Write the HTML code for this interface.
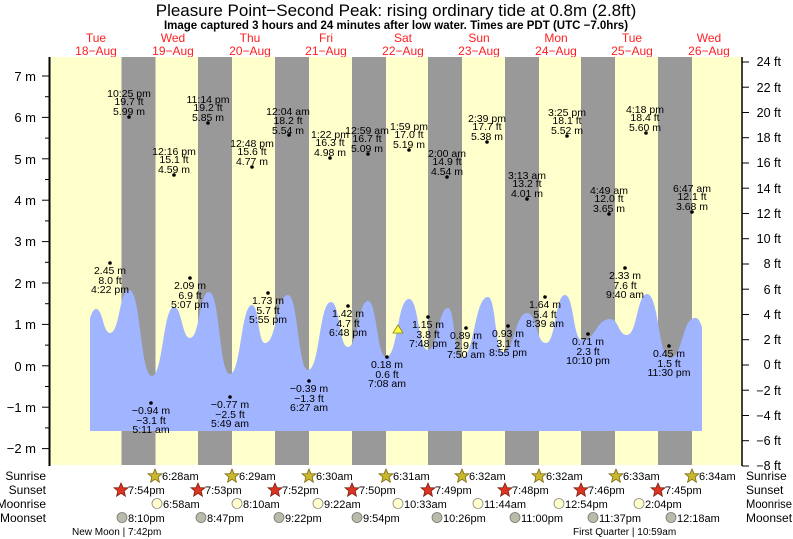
<!DOCTYPE html>
<html><head><meta charset="utf-8"><style>
html,body{margin:0;padding:0;background:#fff;}
svg{display:block;font-family:"Liberation Sans",sans-serif;}
</style></head><body>
<svg width="793" height="539" viewBox="0 0 793 539" xmlns="http://www.w3.org/2000/svg">
<text x="396" y="16" font-size="17" text-anchor="middle" fill="#000">Pleasure Point−Second Peak: rising  ordinary tide at 0.8m (2.8ft)</text>
<text x="396" y="29" font-size="11.5" font-weight="bold" text-anchor="middle" fill="#000">Image captured 3 hours and 24 minutes after low water. Times are PDT (UTC −7.0hrs)</text>
<g font-size="12" fill="#ff2020" text-anchor="middle">
<text x="96" y="42">Tue</text><text x="96" y="55">18−Aug</text>
<text x="173" y="42">Wed</text><text x="173" y="55">19−Aug</text>
<text x="250" y="42">Thu</text><text x="250" y="55">20−Aug</text>
<text x="326" y="42">Fri</text><text x="326" y="55">21−Aug</text>
<text x="403" y="42">Sat</text><text x="403" y="55">22−Aug</text>
<text x="479" y="42">Sun</text><text x="479" y="55">23−Aug</text>
<text x="556" y="42">Mon</text><text x="556" y="55">24−Aug</text>
<text x="632" y="42">Tue</text><text x="632" y="55">25−Aug</text>
<text x="709" y="42">Wed</text><text x="709" y="55">26−Aug</text>
</g>
<rect x="50" y="57" width="692" height="408" fill="#ffffcc"/>
<g fill="#999999">
<rect x="121.5" y="57" width="34" height="408"/>
<rect x="198" y="57" width="34" height="408"/>
<rect x="275" y="57" width="34" height="408"/>
<rect x="352" y="57" width="34" height="408"/>
<rect x="428" y="57" width="34" height="408"/>
<rect x="505" y="57" width="34" height="408"/>
<rect x="581" y="57" width="34" height="408"/>
<rect x="658" y="57" width="34" height="408"/>
</g>
<path fill="#a0b4ff" d="M90,431 L90,318 C92,312 94,309 96,309 C103,309 103,333 110,333 C120,333 119,290 129,290 C141,290 140,376 152,376 C163,376 163,307 174,307 C182,307 182,338 190,338 C200,338 199,292 209,292 C220,292 219,374 230,374 C241,374 241,305 252,305 C259,305 258,343 265,343 C277,343 276,295 288,295 C298,295 298,370 308,370 C320,370 319,302 331,302 C340,302 339,347 348,347 C358,347 358,301 368,301 C377,301 377,357 386,357 C398,357 397,299 409,299 C419,299 418,350 428,350 C438,350 438,308 448,308 C455,308 454,358 461,358 C475,358 474,297 488,297 C496,297 495,352 503,352 C515,352 515,313 527,313 C537,313 536,343 546,343 C556,343 555,295 565,295 C574,295 573,340 582,340 C596,340 596,319 610,319 C619,319 618,335 627,335 C637,335 637,294 647,294 C659,294 658,358 670,358 C683,358 682,318 695,318 C699,318 700,322 702,327 L702,431 Z"/>
<line x1="49.5" y1="57" x2="49.5" y2="466" stroke="#000" stroke-width="2"/>
<line x1="742" y1="57" x2="742" y2="466" stroke="#000" stroke-width="1.5"/>
<g stroke="#000" stroke-width="1">
<line x1="42" y1="76" x2="49" y2="76"/><line x1="42" y1="117.4" x2="49" y2="117.4"/><line x1="42" y1="158.8" x2="49" y2="158.8"/><line x1="42" y1="200.2" x2="49" y2="200.2"/><line x1="42" y1="241.6" x2="49" y2="241.6"/><line x1="42" y1="283" x2="49" y2="283"/><line x1="42" y1="324.4" x2="49" y2="324.4"/><line x1="42" y1="365.8" x2="49" y2="365.8"/><line x1="42" y1="407.2" x2="49" y2="407.2"/><line x1="42" y1="448.6" x2="49" y2="448.6"/>
<line x1="45" y1="96.7" x2="49" y2="96.7"/><line x1="45" y1="138.1" x2="49" y2="138.1"/><line x1="45" y1="179.5" x2="49" y2="179.5"/><line x1="45" y1="220.9" x2="49" y2="220.9"/><line x1="45" y1="262.3" x2="49" y2="262.3"/><line x1="45" y1="303.7" x2="49" y2="303.7"/><line x1="45" y1="345.1" x2="49" y2="345.1"/><line x1="45" y1="386.5" x2="49" y2="386.5"/><line x1="45" y1="427.9" x2="49" y2="427.9"/>
<line x1="742" y1="62" x2="749" y2="62"/><line x1="742" y1="87.2" x2="749" y2="87.2"/><line x1="742" y1="112.5" x2="749" y2="112.5"/><line x1="742" y1="137.7" x2="749" y2="137.7"/><line x1="742" y1="163" x2="749" y2="163"/><line x1="742" y1="188.2" x2="749" y2="188.2"/><line x1="742" y1="213.5" x2="749" y2="213.5"/><line x1="742" y1="238.7" x2="749" y2="238.7"/><line x1="742" y1="264" x2="749" y2="264"/><line x1="742" y1="289.2" x2="749" y2="289.2"/><line x1="742" y1="314.5" x2="749" y2="314.5"/><line x1="742" y1="339.7" x2="749" y2="339.7"/><line x1="742" y1="365" x2="749" y2="365"/><line x1="742" y1="390.2" x2="749" y2="390.2"/><line x1="742" y1="415.5" x2="749" y2="415.5"/><line x1="742" y1="440.7" x2="749" y2="440.7"/><line x1="742" y1="466" x2="749" y2="466"/>
</g>
<g font-size="13" fill="#000" text-anchor="end">
<text x="36" y="81">7 m</text><text x="36" y="122">6 m</text><text x="36" y="164">5 m</text><text x="36" y="205">4 m</text><text x="36" y="246">3 m</text><text x="36" y="288">2 m</text><text x="36" y="329">1 m</text><text x="36" y="371">0 m</text><text x="36" y="412">−1 m</text><text x="36" y="453">−2 m</text>
</g>
<g font-size="12.5" fill="#000" text-anchor="end">
<text x="781" y="66">24 ft</text><text x="781" y="92">22 ft</text><text x="781" y="117">20 ft</text><text x="781" y="142">18 ft</text><text x="781" y="167">16 ft</text><text x="781" y="193">14 ft</text><text x="781" y="218">12 ft</text><text x="781" y="243">10 ft</text><text x="781" y="268">8 ft</text><text x="781" y="294">6 ft</text><text x="781" y="319">4 ft</text><text x="781" y="344">2 ft</text><text x="781" y="369">0 ft</text><text x="781" y="395">−2 ft</text><text x="781" y="420">−4 ft</text><text x="781" y="445">−6 ft</text><text x="781" y="470">−8 ft</text>
</g>
<g font-size="10.5" fill="#000" text-anchor="middle">
<circle cx="129" cy="117" r="1.8"/><text x="129" y="97">10:25 pm</text><text x="129" y="105">19.7 ft</text><text x="129" y="115">5.99 m</text>
<circle cx="208" cy="123" r="1.8"/><text x="208" y="103">11:14 pm</text><text x="208" y="111">19.2 ft</text><text x="208" y="121">5.85 m</text>
<circle cx="289" cy="135" r="1.8"/><text x="288" y="115">12:04 am</text><text x="288" y="124">18.2 ft</text><text x="288" y="134">5.54 m</text>
<circle cx="368" cy="154" r="1.8"/><text x="367" y="134">12:59 am</text><text x="367" y="142">16.7 ft</text><text x="367" y="152">5.09 m</text>
<circle cx="174" cy="175" r="1.8"/><text x="174" y="155">12:16 pm</text><text x="174" y="163">15.1 ft</text><text x="174" y="173">4.59 m</text>
<circle cx="252" cy="167" r="1.8"/><text x="252" y="147">12:48 pm</text><text x="252" y="155">15.6 ft</text><text x="252" y="165">4.77 m</text>
<circle cx="330" cy="158" r="1.8"/><text x="330" y="138">1:22 pm</text><text x="330" y="146">16.3 ft</text><text x="330" y="156">4.98 m</text>
<circle cx="409" cy="150" r="1.8"/><text x="409" y="130">1:59 pm</text><text x="409" y="138">17.0 ft</text><text x="409" y="148">5.19 m</text>
<circle cx="447" cy="177" r="1.8"/><text x="447" y="157">2:00 am</text><text x="447" y="165">14.9 ft</text><text x="447" y="175">4.54 m</text>
<circle cx="487" cy="142" r="1.8"/><text x="487" y="122">2:39 pm</text><text x="487" y="130">17.7 ft</text><text x="487" y="140">5.38 m</text>
<circle cx="527" cy="199" r="1.8"/><text x="527" y="179">3:13 am</text><text x="527" y="187">13.2 ft</text><text x="527" y="197">4.01 m</text>
<circle cx="567" cy="136" r="1.8"/><text x="567" y="116">3:25 pm</text><text x="567" y="124">18.1 ft</text><text x="567" y="134">5.52 m</text>
<circle cx="609" cy="214" r="1.8"/><text x="609" y="194">4:49 am</text><text x="609" y="202">12.0 ft</text><text x="609" y="212">3.65 m</text>
<circle cx="646" cy="133" r="1.8"/><text x="645" y="113">4:18 pm</text><text x="645" y="121">18.4 ft</text><text x="645" y="131">5.60 m</text>
<circle cx="692" cy="212" r="1.8"/><text x="692" y="192">6:47 am</text><text x="692" y="200">12.1 ft</text><text x="692" y="210">3.68 m</text>
<circle cx="110" cy="263" r="1.8"/><text x="110" y="274">2.45 m</text><text x="110" y="284">8.0 ft</text><text x="110" y="293">4:22 pm</text>
<circle cx="151" cy="403" r="1.8"/><text x="151" y="414">−0.94 m</text><text x="151" y="424">−3.1 ft</text><text x="151" y="433">5:11 am</text>
<circle cx="190" cy="278" r="1.8"/><text x="190" y="289">2.09 m</text><text x="190" y="299">6.9 ft</text><text x="190" y="308">5:07 pm</text>
<circle cx="230" cy="397" r="1.8"/><text x="230" y="408">−0.77 m</text><text x="230" y="418">−2.5 ft</text><text x="230" y="427">5:49 am</text>
<circle cx="268" cy="293" r="1.8"/><text x="268" y="304">1.73 m</text><text x="268" y="314">5.7 ft</text><text x="268" y="323">5:55 pm</text>
<circle cx="309" cy="381" r="1.8"/><text x="309" y="392">−0.39 m</text><text x="309" y="402">−1.3 ft</text><text x="309" y="411">6:27 am</text>
<circle cx="348" cy="306" r="1.8"/><text x="348" y="317">1.42 m</text><text x="348" y="327">4.7 ft</text><text x="348" y="336">6:48 pm</text>
<circle cx="387" cy="357" r="1.8"/><text x="387" y="368">0.18 m</text><text x="387" y="378">0.6 ft</text><text x="387" y="387">7:08 am</text>
<circle cx="428" cy="317" r="1.8"/><text x="428" y="328">1.15 m</text><text x="428" y="338">3.8 ft</text><text x="428" y="347">7:48 pm</text>
<circle cx="466" cy="328" r="1.8"/><text x="466" y="339">0.89 m</text><text x="466" y="349">2.9 ft</text><text x="466" y="358">7:50 am</text>
<circle cx="508" cy="326" r="1.8"/><text x="508" y="337">0.93 m</text><text x="508" y="347">3.1 ft</text><text x="508" y="356">8:55 pm</text>
<circle cx="545" cy="297" r="1.8"/><text x="545" y="308">1.64 m</text><text x="545" y="318">5.4 ft</text><text x="545" y="327">8:39 am</text>
<circle cx="588" cy="334" r="1.8"/><text x="588" y="345">0.71 m</text><text x="588" y="355">2.3 ft</text><text x="588" y="364">10:10 pm</text>
<circle cx="625" cy="268" r="1.8"/><text x="625" y="279">2.33 m</text><text x="625" y="289">7.6 ft</text><text x="625" y="298">9:40 am</text>
<circle cx="669" cy="346" r="1.8"/><text x="669" y="357">0.45 m</text><text x="669" y="367">1.5 ft</text><text x="669" y="376">11:30 pm</text>
</g>
<polygon points="398,325 393,333 403,333" fill="#ffff44" stroke="#888800" stroke-width="0.8"/>
<defs>
<polygon id="st" points="0,-7 2,-2.3 7,-2.2 3.2,1 4.4,6.2 0,3.3 -4.4,6.2 -3.2,1 -7,-2.2 -2,-2.3"/>
</defs>
<g font-size="12" fill="#000">
<text x="46" y="480" text-anchor="end">Sunrise</text><text x="46" y="494" text-anchor="end">Sunset</text><text x="46" y="508" text-anchor="end">Moonrise</text><text x="46" y="522" text-anchor="end">Moonset</text>
<text x="746" y="480">Sunrise</text><text x="746" y="494">Sunset</text><text x="746" y="508" textLength="46" lengthAdjust="spacingAndGlyphs">Moonrise</text><text x="746" y="522">Moonset</text>
</g>
<g font-size="11" fill="#000">
<g fill="#c8b830" stroke="#7a6a10" stroke-width="0.8">
<use href="#st" x="155" y="476"/><use href="#st" x="232" y="476"/><use href="#st" x="309" y="476"/><use href="#st" x="386" y="476"/><use href="#st" x="462" y="476"/><use href="#st" x="539" y="476"/><use href="#st" x="616" y="476"/><use href="#st" x="692" y="476"/>
</g>
<text x="162" y="480">6:28am</text><text x="239" y="480">6:29am</text><text x="316" y="480">6:30am</text><text x="393" y="480">6:31am</text><text x="469" y="480">6:32am</text><text x="546" y="480">6:32am</text><text x="623" y="480">6:33am</text><text x="699" y="480">6:34am</text>
<g fill="#dd3322" stroke="#7a2010" stroke-width="0.8">
<use href="#st" x="121" y="490"/><use href="#st" x="198" y="490"/><use href="#st" x="275" y="490"/><use href="#st" x="352" y="490"/><use href="#st" x="428" y="490"/><use href="#st" x="505" y="490"/><use href="#st" x="581" y="490"/><use href="#st" x="658" y="490"/>
</g>
<text x="128" y="494">7:54pm</text><text x="205" y="494">7:53pm</text><text x="282" y="494">7:52pm</text><text x="359" y="494">7:50pm</text><text x="435" y="494">7:49pm</text><text x="512" y="494">7:48pm</text><text x="588" y="494">7:46pm</text><text x="665" y="494">7:45pm</text>
<g fill="#ffffcc" stroke="#888" stroke-width="0.8">
<circle cx="157" cy="503.5" r="5"/><circle cx="237" cy="503.5" r="5"/><circle cx="318" cy="503.5" r="5"/><circle cx="398" cy="503.5" r="5"/><circle cx="478" cy="503.5" r="5"/><circle cx="559" cy="503.5" r="5"/><circle cx="639" cy="503.5" r="5"/>
</g>
<text x="163" y="508">6:58am</text><text x="243" y="508">8:10am</text><text x="324" y="508">9:22am</text><text x="404" y="508">10:33am</text><text x="484" y="508">11:44am</text><text x="565" y="508">12:54pm</text><text x="645" y="508">2:04pm</text>
<g fill="#bbbbaa" stroke="#777" stroke-width="0.8">
<circle cx="122" cy="517.5" r="5"/><circle cx="201" cy="517.5" r="5"/><circle cx="279" cy="517.5" r="5"/><circle cx="357" cy="517.5" r="5"/><circle cx="437" cy="517.5" r="5"/><circle cx="515" cy="517.5" r="5"/><circle cx="593" cy="517.5" r="5"/><circle cx="671" cy="517.5" r="5"/>
</g>
<text x="128" y="522">8:10pm</text><text x="207" y="522">8:47pm</text><text x="285" y="522">9:22pm</text><text x="363" y="522">9:54pm</text><text x="443" y="522">10:26pm</text><text x="521" y="522">11:00pm</text><text x="599" y="522">11:37pm</text><text x="677" y="522">12:18am</text>
<text x="72" y="535" font-size="10">New Moon | 7:42pm</text>
<text x="573" y="535" font-size="10">First Quarter | 10:59am</text>
</g>
</svg>
</body></html>
